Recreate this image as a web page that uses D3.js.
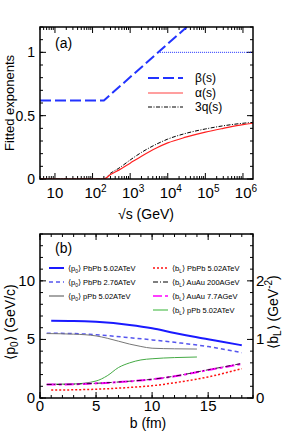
<!DOCTYPE html>
<html>
<head>
<meta charset="utf-8">
<script src="https://d3js.org/d3.v7.min.js"></script>
<style>
  body { margin: 0; background: #fff; }
  svg { font-family: "Liberation Sans", Arial, sans-serif; }
</style>
</head>
<body>
<div id="chart"></div>
<script>
// ---- panel (a) data ----
const betaS = [4, 200, 32000];
const betaV = [0.62, 0.62, 1.2];
const betaCapS = [6200, 1.85e6];
const betaCapV = [1.0, 1.0];
const sqrtS = [4, 200, 300, 500, 1000, 2000, 5000, 1e4, 3e4, 1e5, 3e5, 1e6, 1.85e6];
const alphaV = [0, 0, 0.035, 0.07, 0.125, 0.18, 0.245, 0.285, 0.33, 0.37, 0.40, 0.43, 0.44];
const q3V = [0, 0, 0.045, 0.085, 0.15, 0.21, 0.275, 0.315, 0.36, 0.395, 0.42, 0.44, 0.447];
const decades = [1, 2, 3, 4, 5, 6];
const yTicksA = [0, 0.5, 1];

// ---- panel (b) data ----
const bPbPb502 = [1, 3, 5, 8, 10, 12, 14, 16, 18];
const p0PbPb502 = [6.6, 6.58, 6.5, 6.24, 5.96, 5.55, 5.18, 4.85, 4.5];
const bPbPb276 = [0.6, 3, 5, 8, 10, 12, 15, 18];
const p0PbPb276 = [5.53, 5.5, 5.4, 5.15, 4.96, 4.75, 4.39, 3.87];
const bpPb = [0.6, 3, 5, 6, 7, 8, 9, 10, 12, 14];
const p0pPb = [5.5, 5.45, 5.3, 5.1, 4.85, 4.6, 4.4, 4.25, 4.2, 4.18];
const bLpPb = [0.234, 0.24, 0.29, 0.38, 0.52, 0.6, 0.65, 0.67, 0.69, 0.7];
const bAu = [0.6, 3, 5, 8, 10, 12, 15, 18];
const bLAu77 = [0.23, 0.235, 0.25, 0.285, 0.318, 0.37, 0.478, 0.58];
const bLAu200 = [0.23, 0.236, 0.251, 0.287, 0.32, 0.373, 0.482, 0.59];
const bRed = [1, 3, 5, 8, 10, 12, 15, 18];
const bLPbPb502 = [0.135, 0.14, 0.15, 0.18, 0.21, 0.26, 0.36, 0.5];

const W = 283, H = 440;
const svg = d3.select("#chart").append("svg").attr("width", W).attr("height", H);

// ================= panel (a) =================
const ax = {l: 40, r: 253, t: 27, b: 179};
const xA = d3.scaleLog().domain([4, 1.85e6]).range([ax.l, ax.r]);
const yA = d3.scaleLinear().domain([0, 1.2]).range([ax.b, ax.t]);

const gA = svg.append("g");
gA.append("clipPath").attr("id", "clipA").append("rect")
  .attr("x", ax.l).attr("y", ax.t).attr("width", ax.r - ax.l).attr("height", ax.b - ax.t);

// log ticks
const minorA = [];
for (let e = 0; e <= 6; e++) for (let k = 2; k <= 9; k++) {
  const v = k * Math.pow(10, e);
  if (v >= 4 && v <= 1.85e6) minorA.push(v);
}
const majorA = decades.map(d => Math.pow(10, d));
[[ax.b, -1], [ax.t, 1]].forEach(([y0, s]) => {
  gA.selectAll(null).data(minorA).enter().append("line")
    .attr("x1", d => xA(d)).attr("x2", d => xA(d))
    .attr("y1", y0).attr("y2", y0 + s * 3).attr("stroke", "#000");
  gA.selectAll(null).data(majorA).enter().append("line")
    .attr("x1", d => xA(d)).attr("x2", d => xA(d))
    .attr("y1", y0).attr("y2", y0 + s * 6).attr("stroke", "#000");
});
const yMinorA = d3.range(0, 1.21, 0.1);
[[ax.l, 1], [ax.r, -1]].forEach(([x0, s]) => {
  gA.selectAll(null).data(yMinorA).enter().append("line")
    .attr("x1", x0).attr("x2", x0 + s * 3)
    .attr("y1", d => yA(d)).attr("y2", d => yA(d)).attr("stroke", "#000");
  gA.selectAll(null).data(yTicksA).enter().append("line")
    .attr("x1", x0).attr("x2", x0 + s * 6)
    .attr("y1", d => yA(d)).attr("y2", d => yA(d)).attr("stroke", "#000");
});

// tick labels
gA.selectAll(null).data(decades).enter().append("text")
  .attr("x", d => xA(Math.pow(10, d)) + (d === 1 ? 0 : 3))
  .attr("y", 198).attr("text-anchor", "middle").attr("font-size", 15)
  .each(function(d) {
    const t = d3.select(this);
    t.append("tspan").text("10");
    if (d > 1) t.append("tspan").attr("dy", -6).attr("font-size", 10).text(d);
  });
gA.selectAll(null).data(yTicksA).enter().append("text")
  .attr("x", 35).attr("y", d => yA(d) + 5).attr("text-anchor", "end")
  .attr("font-size", 14).text(d => d);

// curves
const lineA = (xs, ys) => d3.line().x((d, i) => xA(xs[i])).y(d => yA(d))(ys);
const curveA = (xs, ys) => d3.line().x((d, i) => xA(xs[i])).y(d => yA(d)).curve(d3.curveMonotoneX)(ys);
const plotA = gA.append("g").attr("clip-path", "url(#clipA)");
plotA.append("path").attr("d", lineA(betaCapS, betaCapV)).attr("fill", "none")
  .attr("stroke", "#2233ff").attr("stroke-width", 1).attr("stroke-dasharray", "1,1");
plotA.append("path").attr("d", lineA(betaS, betaV)).attr("fill", "none")
  .attr("stroke", "#2233ff").attr("stroke-width", 2).attr("stroke-dasharray", "11,4");
plotA.append("path").attr("d", curveA(sqrtS, q3V)).attr("fill", "none")
  .attr("stroke", "#000").attr("stroke-width", 1).attr("stroke-dasharray", "4,1.5,1,1.5");
plotA.append("path").attr("d", curveA(sqrtS, alphaV)).attr("fill", "none")
  .attr("stroke", "#ff2020").attr("stroke-width", 1.2);

// legend (a)
const legA = [
  {label: "β(s)", color: "#2233ff", w: 2, dash: "11,4", y: 78},
  {label: "α(s)", color: "#ff4040", w: 1.2, dash: null, y: 93},
  {label: "3q(s)", color: "#000", w: 1, dash: "4,1.5,1,1.5", y: 107}
];
legA.forEach(d => {
  gA.append("line").attr("x1", 148).attr("x2", 183).attr("y1", d.y).attr("y2", d.y)
    .attr("stroke", d.color).attr("stroke-width", d.w).attr("stroke-dasharray", d.dash);
  gA.append("text").attr("x", 195).attr("y", d.y + 4).attr("font-size", 12).text(d.label);
});
gA.append("text").attr("x", 55).attr("y", 48).attr("font-size", 14).text("(a)");

gA.append("rect").attr("x", ax.l).attr("y", ax.t).attr("width", ax.r - ax.l)
  .attr("height", ax.b - ax.t).attr("fill", "none").attr("stroke", "#000").attr("stroke-width", 1.5);

gA.append("text").attr("transform", `translate(14,103) rotate(-90)`)
  .attr("text-anchor", "middle").attr("font-size", 13).text("Fitted exponents");
gA.append("text").attr("x", 146).attr("y", 219).attr("text-anchor", "middle")
  .attr("font-size", 14).text("√s (GeV)");

// ================= panel (b) =================
const bx = {l: 40, r: 253, t: 234, b: 398};
const xB = d3.scaleLinear().domain([0, 19]).range([bx.l, bx.r]);
const yB = d3.scaleLinear().domain([0, 14]).range([bx.b, bx.t]);
const yBR = d3.scaleLinear().domain([0, 2.8]).range([bx.b, bx.t]);
const gB = svg.append("g");

const xMinorB = d3.range(0, 20, 1);
const xMajorB = [0, 5, 10, 15];
[[bx.b, -1], [bx.t, 1]].forEach(([y0, s]) => {
  gB.selectAll(null).data(xMinorB).enter().append("line")
    .attr("x1", d => xB(d)).attr("x2", d => xB(d))
    .attr("y1", y0).attr("y2", y0 + s * 3).attr("stroke", "#000");
  gB.selectAll(null).data(xMajorB).enter().append("line")
    .attr("x1", d => xB(d)).attr("x2", d => xB(d))
    .attr("y1", y0).attr("y2", y0 + s * 6).attr("stroke", "#000");
});
const yMinorB = d3.range(0, 15, 1);
const yMajorB = [0, 5, 10];
[[bx.l, 1], [bx.r, -1]].forEach(([x0, s]) => {
  gB.selectAll(null).data(yMinorB).enter().append("line")
    .attr("x1", x0).attr("x2", x0 + s * 3)
    .attr("y1", d => yB(d)).attr("y2", d => yB(d)).attr("stroke", "#000");
  gB.selectAll(null).data(yMajorB).enter().append("line")
    .attr("x1", x0).attr("x2", x0 + s * 6)
    .attr("y1", d => yB(d)).attr("y2", d => yB(d)).attr("stroke", "#000");
});
gB.selectAll(null).data(xMajorB).enter().append("text")
  .attr("x", d => xB(d)).attr("y", 411).attr("text-anchor", "middle")
  .attr("font-size", 15).text(d => d);
gB.selectAll(null).data(yMajorB).enter().append("text")
  .attr("x", 35).attr("y", d => yB(d) + 5).attr("text-anchor", "end")
  .attr("font-size", 15).text(d => d);
gB.selectAll(null).data([0, 1, 2]).enter().append("text")
  .attr("x", 256).attr("y", d => yBR(d) + 5).attr("text-anchor", "start")
  .attr("font-size", 15).text(d => d);

const lineL = (xs, ys) => d3.line().x((d, i) => xB(xs[i])).y(d => yB(d)).curve(d3.curveMonotoneX)(ys);
const lineR = (xs, ys) => d3.line().x((d, i) => xB(xs[i])).y(d => yBR(d)).curve(d3.curveMonotoneX)(ys);

const seriesB = [
  {d: lineL(bPbPb502, p0PbPb502), c: "#1a1aff", w: 2, dash: null},
  {d: lineL(bPbPb276, p0PbPb276), c: "#5555ee", w: 1.5, dash: "4,3"},
  {d: lineL(bpPb, p0pPb), c: "#777", w: 1, dash: null},
  {d: lineR(bpPb, bLpPb), c: "#44aa44", w: 1, dash: null},
  {d: lineR(bRed, bLPbPb502), c: "#ff1010", w: 1.5, dash: "2,2"},
  {d: lineR(bAu, bLAu77), c: "#ff00ff", w: 2, dash: "9,3,3,3"},
  {d: lineR(bAu, bLAu200), c: "#000", w: 0.8, dash: "5,2,1,2"}
];
seriesB.forEach(s => {
  gB.append("path").attr("d", s.d).attr("fill", "none").attr("stroke", s.c)
    .attr("stroke-width", s.w).attr("stroke-dasharray", s.dash);
});

// legend (b)
const legB = [
  {sym: "p", sub: "0", txt: " PbPb 5.02ATeV", c: "#1a1aff", w: 2, dash: null, x: 49, y: 268},
  {sym: "p", sub: "0", txt: " PbPb 2.76ATeV", c: "#5555ee", w: 1.5, dash: "4,3", x: 49, y: 282},
  {sym: "p", sub: "0", txt: " pPb 5.02ATeV", c: "#888", w: 1.5, dash: null, x: 49, y: 296},
  {sym: "b", sub: "L", txt: " PbPb 5.02ATeV", c: "#ff1010", w: 1.5, dash: "2,2", x: 153, y: 268},
  {sym: "b", sub: "L", txt: " AuAu 200AGeV", c: "#000", w: 1.2, dash: "5,2,1,2", x: 153, y: 282},
  {sym: "b", sub: "L", txt: " AuAu 7.7AGeV", c: "#ff00ff", w: 1.5, dash: "9,3,3,3", x: 153, y: 296},
  {sym: "b", sub: "L", txt: " pPb 5.02ATeV", c: "#77cc77", w: 1.5, dash: null, x: 153, y: 310}
];
legB.forEach(d => {
  gB.append("line").attr("x1", d.x).attr("x2", d.x + 15).attr("y1", d.y).attr("y2", d.y)
    .attr("stroke", d.c).attr("stroke-width", d.w).attr("stroke-dasharray", d.dash);
  const t = gB.append("text").attr("x", d.x + 19).attr("y", d.y + 3).attr("font-size", 7.5);
  t.append("tspan").text("⟨" + d.sym);
  t.append("tspan").attr("font-size", 5).attr("dy", 1.5).text(d.sub);
  t.append("tspan").attr("dy", -1.5).text("⟩" + d.txt);
});
gB.append("text").attr("x", 55).attr("y", 253).attr("font-size", 14).text("(b)");

gB.append("rect").attr("x", bx.l).attr("y", bx.t).attr("width", bx.r - bx.l)
  .attr("height", bx.b - bx.t).attr("fill", "none").attr("stroke", "#000").attr("stroke-width", 1.5);

// axis titles (b)
const tl = gB.append("text").attr("transform", "translate(15,322) rotate(-90)")
  .attr("text-anchor", "middle").attr("font-size", 14);
tl.append("tspan").text("⟨p");
tl.append("tspan").attr("font-size", 10).attr("dy", 3).text("0");
tl.append("tspan").attr("dy", -3).text("⟩ (GeV/c)");
const tr = gB.append("text").attr("transform", "translate(278,312) rotate(-90)")
  .attr("text-anchor", "middle").attr("font-size", 14);
tr.append("tspan").text("⟨b");
tr.append("tspan").attr("font-size", 10).attr("dy", 3).text("L");
tr.append("tspan").attr("dy", -3).text("⟩ (GeV");
tr.append("tspan").attr("font-size", 10).attr("dy", -6).text("-2");
tr.append("tspan").attr("dy", 6).text(")");
gB.append("text").attr("x", 148).attr("y", 428).attr("text-anchor", "middle")
  .attr("font-size", 14).text("b (fm)");
</script>
</body>
</html>
